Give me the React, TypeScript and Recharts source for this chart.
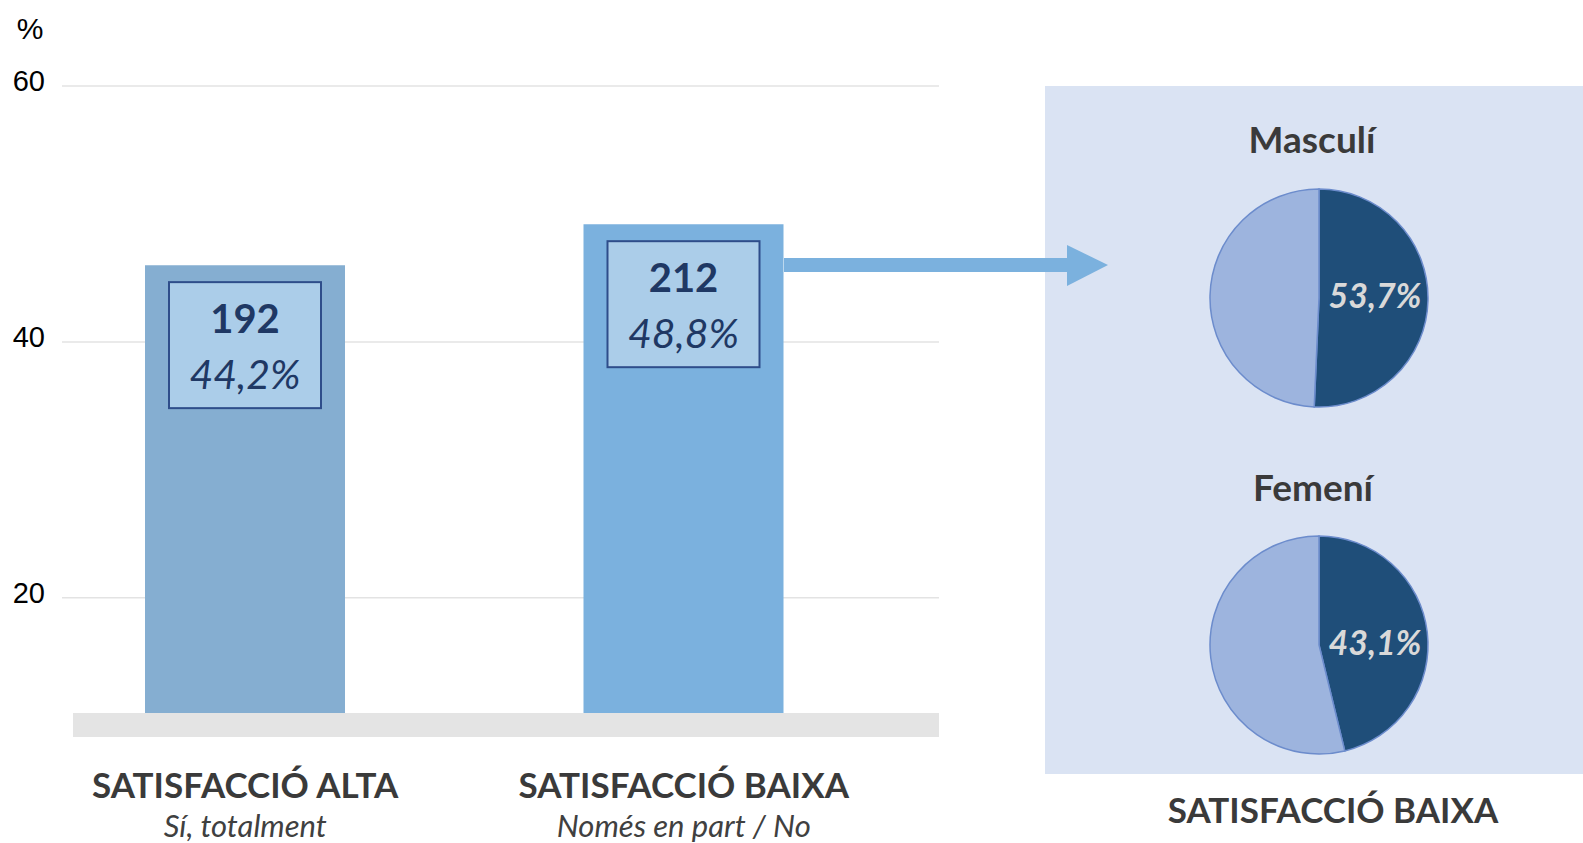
import React from "react";
import {
  BarChart,
  Bar,
  XAxis,
  YAxis,
  CartesianGrid,
  Cell,
  LabelList,
  PieChart,
  Pie,
} from "recharts";

// bar chart data
const categories = ["SATISFACCIÓ ALTA", "SATISFACCIÓ BAIXA"];
const subtitles = ["Sí, totalment", "Només en part / No"];
const barHeights = [46.0, 49.2]; // heights as drawn against the % axis
const counts = [192, 212];
const percentLabels = ["44,2%", "48,8%"];
const yTicks = [20, 40, 60];

// pie data (low satisfaction, by sex) - slice sizes as drawn
const pieTitles = ["Masculí", "Femení"];
const malePie = [50.7, 49.3];
const femalePie = [46.2, 53.8];
const pieLabels = ["53,7%", "43,1%"];

const barColors = ["#85AED1", "#7BB1DE"];
const pieColors = ["#1F4E79", "#9DB4DE"];
const navy = "#1F3864";
const textGray = "#3A3A3A";

const W = 1583;
const H = 843;

const barData = categories.map((name, i) => ({ name, value: barHeights[i] }));
const maleData = malePie.map((v, i) => ({ name: i === 0 ? "a" : "b", value: v }));
const femaleData = femalePie.map((v, i) => ({ name: i === 0 ? "a" : "b", value: v }));

const YTick = (props: any) => {
  const { x, y, payload } = props;
  return (
    <text
      x={x}
      y={y + 5}
      textAnchor="end"
      fontFamily="Liberation Sans, Arial"
      fontSize={29}
      fill="#000"
    >
      {payload.value}
    </text>
  );
};

const XTick = (props: any) => {
  const { x, y, payload, index } = props;
  return (
    <g>
      <text
        x={x}
        y={y + 85}
        textAnchor="middle"
        fontFamily="Lato"
        fontWeight={700}
        fontSize={35}
        fill={textGray}
      >
        {payload.value}
      </text>
      <text
        x={x}
        y={y + 124}
        textAnchor="middle"
        fontFamily="Lato"
        fontStyle="italic"
        fontSize={31}
        fill="#404040"
      >
        {subtitles[index]}
      </text>
    </g>
  );
};

const BoxLabel = (props: any) => {
  const { x, y, width, index } = props;
  const cx = x + width / 2;
  return (
    <g>
      <rect
        x={cx - 76}
        y={y + 17}
        width={152}
        height={126}
        fill="#ABCDE9"
        stroke="#2E4D8A"
        strokeWidth={2}
      />
      <text
        x={cx}
        y={y + 68}
        textAnchor="middle"
        fontFamily="Lato"
        fontWeight={700}
        fontSize={40}
        fill={navy}
      >
        {counts[index]}
      </text>
      <text
        x={cx}
        y={y + 124}
        textAnchor="middle"
        fontFamily="Lato"
        fontStyle="italic"
        fontSize={41}
        fill={navy}
      >
        {percentLabels[index]}
      </text>
    </g>
  );
};

const pieLabel = (text: string) => (props: any) => {
  if (props.index !== 0) return null;
  return (
    <text
      x={props.cx + 56}
      y={props.cy + 10}
      textAnchor="middle"
      fontFamily="Lato"
      fontWeight={700}
      fontStyle="italic"
      fontSize={34}
      fill="#D9D9D9"
    >
      {text}
    </text>
  );
};

const App: React.FC = () => {
  return (
    <div
      style={{
        position: "absolute",
        left: 0,
        top: 0,
        width: W,
        height: H,
        background: "#fff",
        overflow: "hidden",
      }}
    >
      {/* right panel with the two pies */}
      <div
        style={{
          position: "absolute",
          left: 1045,
          top: 86,
          width: 538,
          height: 688,
          background: "#DAE3F3",
        }}
      >
        <PieChart width={538} height={688} margin={{ top: 0, right: 0, bottom: 0, left: 0 }}>
          <Pie
            data={maleData}
            dataKey="value"
            cx={274}
            cy={212}
            outerRadius={109}
            startAngle={90}
            endAngle={-270}
            stroke="#6C8CCC"
            strokeWidth={1.5}
            labelLine={false}
            label={pieLabel(pieLabels[0])}
            isAnimationActive={false}
          >
            {maleData.map((_, i) => (
              <Cell key={i} fill={pieColors[i]} />
            ))}
          </Pie>
          <Pie
            data={femaleData}
            dataKey="value"
            cx={274}
            cy={559}
            outerRadius={109}
            startAngle={90}
            endAngle={-270}
            stroke="#6C8CCC"
            strokeWidth={1.5}
            labelLine={false}
            label={pieLabel(pieLabels[1])}
            isAnimationActive={false}
          >
            {femaleData.map((_, i) => (
              <Cell key={i} fill={pieColors[i]} />
            ))}
          </Pie>
        </PieChart>
      </div>

      {/* bar chart */}
      <div style={{ position: "absolute", left: 0, top: 0 }}>
        <BarChart
          width={960}
          height={843}
          data={barData}
          margin={{ top: 86, right: 21, bottom: 0, left: 0 }}
        >
          <CartesianGrid
            vertical={false}
            horizontalValues={yTicks}
            stroke="#E3E3E3"
            strokeWidth={1.5}
          />
          <XAxis
            dataKey="name"
            height={130}
            axisLine={false}
            tickLine={false}
            tickSize={0}
            tickMargin={0}
            interval={0}
            padding={{ left: -36, right: 36 }}
            tick={<XTick />}
          />
          <YAxis
            width={62}
            domain={[11, 60]}
            ticks={yTicks}
            axisLine={false}
            tickLine={false}
            tickSize={0}
            tickMargin={17}
            tick={<YTick />}
          />
          <Bar dataKey="value" barSize={200} isAnimationActive={false}>
            {barData.map((_, i) => (
              <Cell key={i} fill={barColors[i]} />
            ))}
            <LabelList dataKey="value" content={<BoxLabel />} />
          </Bar>
        </BarChart>
      </div>

      {/* decorations and titles */}
      <svg
        width={W}
        height={H}
        style={{ position: "absolute", left: 0, top: 0, pointerEvents: "none" }}
      >
        <text
          x={30}
          y={39}
          textAnchor="middle"
          fontFamily="Liberation Sans, Arial"
          fontSize={30}
          fill="#000"
        >
          %
        </text>
        <rect x={73} y={713} width={866} height={24} fill="#E4E4E4" />
        <rect x={784} y={258} width={284} height={14} fill="#7BB1DE" />
        <polygon points="1067,245 1108,265 1067,286" fill="#7BB1DE" />
        <text
          x={1312}
          y={153}
          textAnchor="middle"
          fontFamily="Lato"
          fontWeight={700}
          fontSize={37}
          fill={textGray}
        >
          {pieTitles[0]}
        </text>
        <text
          x={1313}
          y={501}
          textAnchor="middle"
          fontFamily="Lato"
          fontWeight={700}
          fontSize={37}
          fill={textGray}
        >
          {pieTitles[1]}
        </text>
        <text
          x={1333}
          y={823}
          textAnchor="middle"
          fontFamily="Lato"
          fontWeight={700}
          fontSize={35}
          fill={textGray}
        >
          {categories[1]}
        </text>
      </svg>
    </div>
  );
};

export default App;
